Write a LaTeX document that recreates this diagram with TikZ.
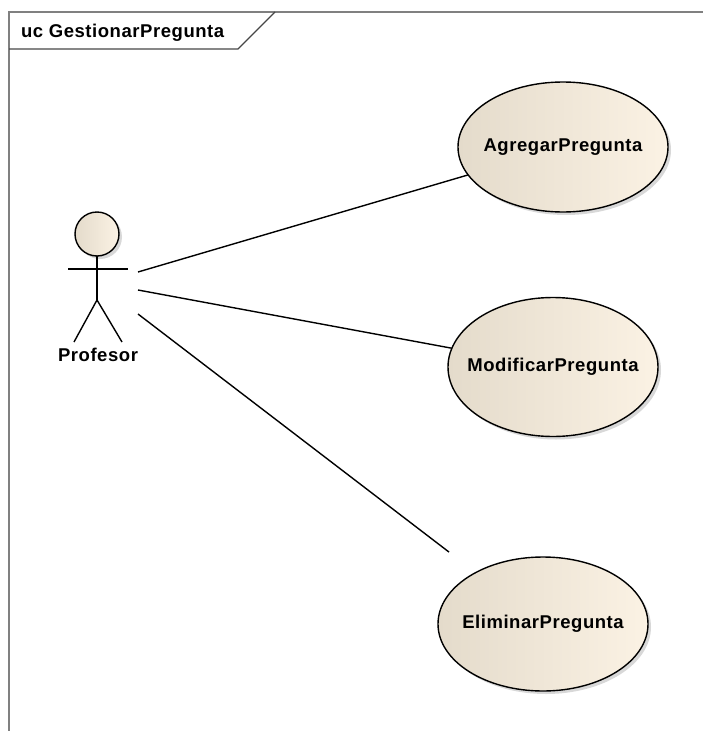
\documentclass[tikz,border=0pt]{standalone}
\usepackage{fontspec}
\setmainfont{Liberation Sans}
\newfontfamily\umlfont{Liberation Sans}[LetterSpace=3]
\usetikzlibrary{shapes.geometric,shadows,calc}
\definecolor{ucfill}{RGB}{251,242,228}
\definecolor{ucedge}{RGB}{228,219,203}
\definecolor{framegray}{RGB}{128,128,128}
\definecolor{tabgray}{RGB}{70,70,70}
\begin{document}
\begin{tikzpicture}[x=1pt,y=-1pt,
  every node/.style={inner sep=0pt,outer sep=0pt},
  umltext/.style={font=\umlfont\bfseries\fontsize{18.5}{20}\selectfont},
  ucshadow/.style={drop shadow={shadow xshift=3pt,shadow yshift=-3pt,fill=black!30}},
  usecase/.style={ellipse,draw=black,line width=1.4pt,minimum width=210pt,
    left color=ucedge,right color=ucfill,ucshadow},
  stick/.style={draw=black,line width=1.4pt},
  assoc/.style={draw=black,line width=1.4pt},
  frameline/.style={draw=framegray,line width=1.5pt},
  tabline/.style={draw=tabgray,line width=1.2pt}]
\useasboundingbox (0,0) rectangle (703,731);

% diagram frame and its name tab
\draw[frameline] (9,731) -- (9,12) -- (703,12);
\draw[tabline] (9,49) -- (238,49) -- (275,12);
\node[umltext,anchor=base west] (title) at (21,37) {uc GestionarPregunta};

% actor
\node[circle,minimum size=44pt,draw=black,line width=1.4pt,
  left color=ucedge,right color=ucfill,ucshadow] (head) at (97,234) {};
\coordinate (hip) at (97,300);
\coordinate (armL) at (68,269);
\coordinate (armR) at (128,269);
\coordinate (footL) at (74,342);
\coordinate (footR) at (122,342);
\draw[stick] (head.south) -- (hip);
\draw[stick] (armL) -- (armR);
\draw[stick] (footL) -- (hip) -- (footR);
\node[umltext,anchor=base] (actorname) at (98,361) {Profesor};

% association end points on the actor side
\coordinate (a1) at (138,272);
\coordinate (a2) at (138,290);
\coordinate (a3) at (138,314);

% use cases (names set as centred labels so the ellipse keeps its size)
\node[usecase,minimum height=130pt,
  label={[umltext]center:AgregarPregunta}] (agregar) at (563,147) {};
\node[usecase,minimum height=139pt,
  label={[umltext]center:ModificarPregunta}] (modificar) at (553,367) {};
\node[usecase,minimum height=134pt,
  label={[umltext]center:EliminarPregunta}] (eliminar) at (543,624) {};

% associations
\draw[assoc] (a1) -- (agregar);
\draw[assoc] (a2) -- (modificar);
\draw[assoc] (a3) -- ($(a3)!0.768!(eliminar.center)$);
\end{tikzpicture}
\end{document}
